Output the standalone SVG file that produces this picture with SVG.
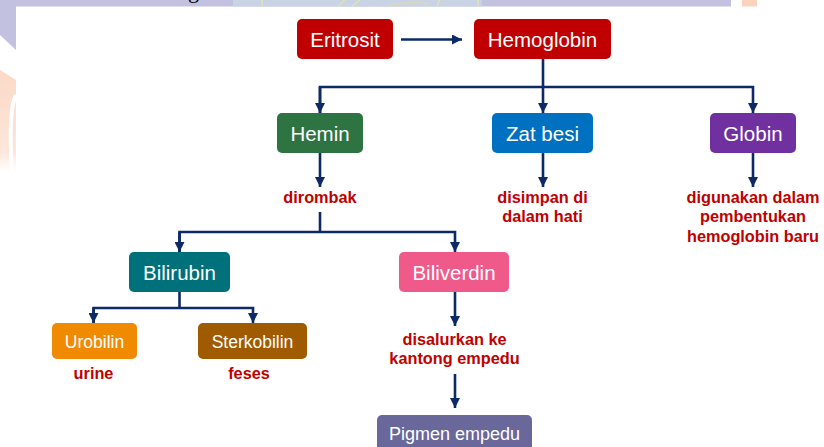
<svg xmlns="http://www.w3.org/2000/svg" width="824" height="447" viewBox="0 0 824 447">
  <defs>
    <marker id="ah" viewBox="0 0 10 10" refX="10" refY="5" markerWidth="10" markerHeight="10" markerUnits="userSpaceOnUse" orient="auto">
      <path d="M0,0 L10,5 L0,10 z" fill="#0d2a66"/>
    </marker>
    <linearGradient id="peach" x1="0" y1="0" x2="0" y2="1">
      <stop offset="0" stop-color="#fbd9c6"/>
      <stop offset="0.8" stop-color="#fde6da"/>
      <stop offset="1" stop-color="#ffffff"/>
    </linearGradient>
  </defs>
  <style>
    .box { stroke: none; }
    .lbl { font-family: "Liberation Sans", Arial, sans-serif; fill: #ffffff; text-anchor: middle; }
    .big { font-size: 20.5px; }
    .small { font-size: 17.5px; }
    .note { font-family: "Liberation Sans", Arial, sans-serif; font-weight: bold; font-size: 16.3px; fill: #c00000; text-anchor: middle; }
    .conn { fill: none; stroke: #0d2a66; stroke-width: 2.6; }
  </style>

  <!-- background remnants -->
  <rect x="0" y="0" width="824" height="447" fill="#ffffff"/>
  <rect x="0" y="0" width="731" height="6.5" fill="#c2c1df"/>
  <rect x="233" y="0" width="249" height="6.5" fill="#c9d3e6"/>
  <path d="M262,0 L262,6 M345,0 L338,6 M360,0 L352,6 M440,0 L437,6 M478,0 L478,6" stroke="#e8e2a8" stroke-width="1.5" fill="none"/>
  <path d="M390,5 Q410,1 430,4" stroke="#dcd8b8" stroke-width="1.5" fill="none"/>
  <rect x="742" y="0" width="15" height="6.5" fill="#fbd3bd"/>
  <text x="188" y="-2.5" font-family="Liberation Serif, serif" font-size="22" fill="#000000">g</text>
  <path d="M0,0 L16,0 L16,50 L0,35 z" fill="#c2c1df"/>
  <path d="M0,70 L16,80 L16,172 L0,172 z" fill="url(#peach)"/>
  <path d="M16,95 Q8,110 12,172" stroke="#ffffff" stroke-width="4" fill="none"/>

  <!-- connectors -->
  <g id="connectors">
    <path class="conn" d="M401,39.5 L462,39.5" marker-end="url(#ah)"/>
    <path class="conn" d="M543,59 L543,87"/>
    <path class="conn" d="M320,113 L320,87 L753,87 L753,113" marker-end="url(#ah)"/>
    <path class="conn" d="M320,87 L320,113" marker-end="url(#ah)"/>
    <path class="conn" d="M543,87 L543,113" marker-end="url(#ah)"/>
    <path class="conn" d="M320,153 L320,187" marker-end="url(#ah)"/>
    <path class="conn" d="M543,153 L543,187" marker-end="url(#ah)"/>
    <path class="conn" d="M753,153 L753,187" marker-end="url(#ah)"/>
    <path class="conn" d="M320,212 L320,232"/>
    <path class="conn" d="M179.5,252 L179.5,232 L455,232 L455,252" marker-end="url(#ah)"/>
    <path class="conn" d="M179.5,232 L179.5,252" marker-end="url(#ah)"/>
    <path class="conn" d="M179.5,292 L179.5,308"/>
    <path class="conn" d="M93.5,323 L93.5,308 L253,308 L253,323" marker-end="url(#ah)"/>
    <path class="conn" d="M93.5,308 L93.5,323" marker-end="url(#ah)"/>
    <path class="conn" d="M455,292 L455,326" marker-end="url(#ah)"/>
    <path class="conn" d="M455,374 L455,408" marker-end="url(#ah)"/>
  </g>

  <!-- nodes -->
  <g id="eritrosit">
    <rect class="box" x="297" y="19" width="96" height="40" rx="5" fill="#c00000"/>
    <text class="lbl big" x="345" y="46.5">Eritrosit</text>
  </g>
  <g id="hemoglobin">
    <rect class="box" x="474" y="19" width="137" height="40" rx="5" fill="#c00000"/>
    <text class="lbl big" x="542.5" y="46.5">Hemoglobin</text>
  </g>
  <g id="hemin">
    <rect class="box" x="277" y="113" width="86" height="40" rx="5" fill="#2e7442"/>
    <text class="lbl big" x="320" y="140.5">Hemin</text>
  </g>
  <g id="zat-besi">
    <rect class="box" x="492" y="113" width="101" height="40" rx="5" fill="#0070c0"/>
    <text class="lbl big" x="542.5" y="140.5">Zat besi</text>
  </g>
  <g id="globin">
    <rect class="box" x="710" y="113" width="86" height="40" rx="5" fill="#7030a0"/>
    <text class="lbl big" x="753" y="140.5">Globin</text>
  </g>
  <g id="dirombak">
    <text class="note" x="320" y="202.5">dirombak</text>
  </g>
  <g id="disimpan">
    <text class="note" x="542.5" y="202.5">disimpan di</text>
    <text class="note" x="542.5" y="222">dalam hati</text>
  </g>
  <g id="digunakan">
    <text class="note" x="753" y="202.5">digunakan dalam</text>
    <text class="note" x="753" y="222">pembentukan</text>
    <text class="note" x="753" y="241.5">hemoglobin baru</text>
  </g>
  <g id="bilirubin">
    <rect class="box" x="129" y="252" width="101" height="40" rx="5" fill="#00707a"/>
    <text class="lbl big" x="179.5" y="279.5">Bilirubin</text>
  </g>
  <g id="biliverdin">
    <rect class="box" x="399" y="252" width="110" height="40" rx="5" fill="#ef5a8b"/>
    <text class="lbl big" x="454" y="279.5">Biliverdin</text>
  </g>
  <g id="urobilin">
    <rect class="box" x="52" y="323" width="85" height="36" rx="5" fill="#f08a00"/>
    <text class="lbl small" x="94.5" y="347.5">Urobilin</text>
  </g>
  <g id="sterkobilin">
    <rect class="box" x="198" y="323" width="109" height="36" rx="5" fill="#a05a00"/>
    <text class="lbl small" x="252.5" y="347.5">Sterkobilin</text>
  </g>
  <g id="urine">
    <text class="note" x="93.5" y="379">urine</text>
  </g>
  <g id="feses">
    <text class="note" x="249" y="379">feses</text>
  </g>
  <g id="disalurkan">
    <text class="note" x="454.5" y="345">disalurkan ke</text>
    <text class="note" x="454.5" y="363.5">kantong empedu</text>
  </g>
  <g id="pigmen-empedu">
    <rect class="box" x="377" y="415" width="155" height="40" rx="5" fill="#6a689a"/>
    <text class="lbl" x="454.5" y="440" font-size="18px">Pigmen empedu</text>
  </g>
</svg>
